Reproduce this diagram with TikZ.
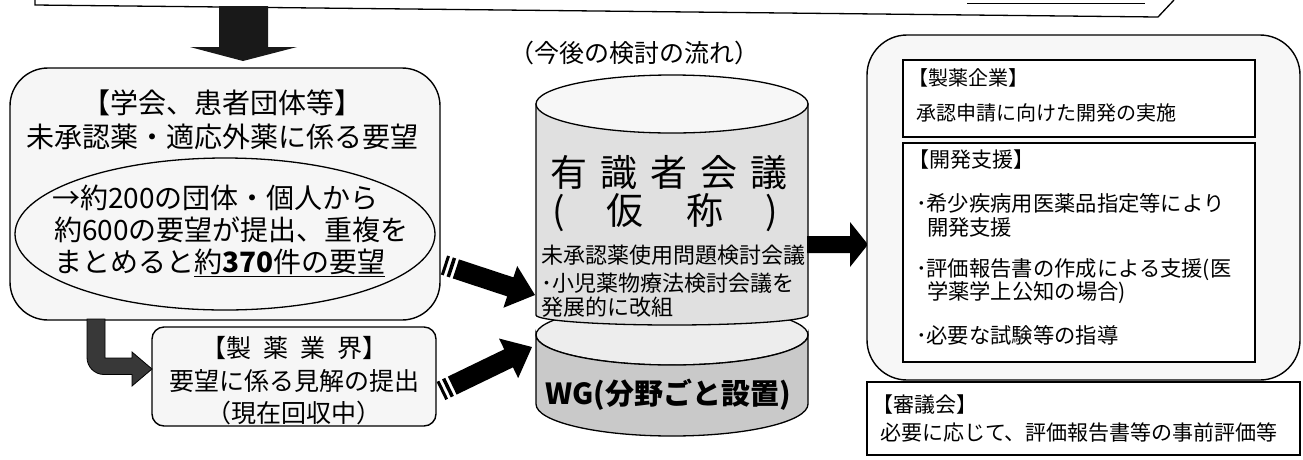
\documentclass[tikz,border=0pt]{standalone}
\usepackage{fontspec}
\setmainfont{Noto Sans CJK JP}
\usetikzlibrary{calc,shapes.geometric}
\newcommand\FSz[1]{\fontsize{#1pt}{#1pt}\selectfont}
\newcommand\StripeArrow[2]{%
 \path let \p1=($(#2)-(#1)$) in \pgfextra{%
   \pgfmathsetmacro\saAngTmp{atan2(\y1,\x1)}%
   \pgfmathsetmacro\saLenTmp{veclen(\x1,\y1)}%
   \xdef\saAng{\saAngTmp}\xdef\saLen{\saLenTmp}};
 \begin{scope}[shift={(#1)}, rotate=\saAng]
  \fill[black] (0,-10) rectangle (3,10);
  \fill[black] (6,-10) rectangle (9.5,10);
  \fill[black] (12.5,-10) -- ({\saLen-26},-10) -- ({\saLen-26},-22) -- (\saLen,0)
     -- ({\saLen-26},22) -- ({\saLen-26},10) -- (12.5,10) -- cycle;
 \end{scope}}
\begin{document}
\begin{tikzpicture}[x=1pt,y=-1pt,
  bx/.style={draw=black, line width=1.4pt, inner sep=0pt},
  lbl/.style={inner sep=0pt, outer sep=0pt},
]
\useasboundingbox (0,0) rectangle (1303,459);
\fill[white] (0,0) rectangle (1303,459);

% top box fragment
\draw[line width=1.3pt] (35,0) -- (35,5) -- (1158,17) -- (1174,0);
\draw[line width=1pt] (967,3) -- (1145,3);

% down arrow
\fill[black!90] (219,6) -- (219,47) -- (190,47) -- (243,61) -- (297,47) -- (268,47) -- (268,6) -- cycle;

% box 1
\node[bx, fill=gray!7, rounded corners=38pt, minimum width=430pt, minimum height=252pt] (req) at (225,194) {};
\node[draw, line width=1.3pt, ellipse, inner sep=0pt, minimum width=420pt, minimum height=152pt] (ell) at (225,234) {};
\node[lbl, font=\FSz{28}] (reqA) at (222,103) {【学会、患者団体等】};
\node[lbl, font=\FSz{28}] (reqB) at (222,137) {未承認薬・適応外薬に係る要望};
\node[lbl, font=\FSz{28}, anchor=west] (ellA) at (52,198) {→約200の団体・個人から};
\node[lbl, font=\FSz{28}, anchor=west] (ellB) at (54,230) {約600の要望が提出、重複を};
\node[lbl, font=\FSz{28}, anchor=west] (ellC) at (54,263) {まとめると\underline{約\textbf{370}件の要望}};

% box 2
\node[bx, fill=gray!7, rounded corners=12pt, minimum width=284pt, minimum height=99pt] (ind) at (294,376.5) {};
\node[lbl, font=\FSz{25}] (indA) at (294,348) {【製\kern12pt 薬\kern12pt 業\kern12pt 界】};
\node[lbl, font=\FSz{25}] (indB) at (294,381) {要望に係る見解の提出};
\node[lbl, font=\FSz{25}] (indC) at (294,413) {（現在回収中）};

% curved arrow
\coordinate (cStart) at (96,319);
\coordinate (cTip) at (152,369);
\filldraw[fill=black!78, draw=black, line width=0.8pt] (87,319) -- (87,357.5)
  .. controls (87,366.9) and (94.6,374.5) .. (104,374.5) -- (132,374.5) -- (132,386)
  -- (cTip) -- (132,352) -- (132,358) -- (105,358) -- (105,319) -- cycle;

% heading
\node[lbl, font=\FSz{25}] (flow) at (634,53) {（今後の検討の流れ）};

% cylinder
\filldraw[fill=gray!14, line width=1.3pt] (672,335) ellipse [x radius=136, y radius=30];
\filldraw[fill=gray!42, line width=1.3pt] (536,335) .. controls (536,351.6) and (596.9,365) .. (672,365)
  .. controls (747.1,365) and (808,351.6) .. (808,335) -- (808,404)
  .. controls (808,421.7) and (747.1,436) .. (672,436)
  .. controls (596.9,436) and (536,421.7) .. (536,404) -- cycle;
\filldraw[fill=gray!24, line width=1.3pt] (536,104) -- (536,315) .. controls (536,320.5) and (596.9,325) .. (672,325)
  .. controls (747.1,325) and (808,320.5) .. (808,315) -- (808,104) -- cycle;
\filldraw[fill=gray!6, line width=1.3pt] (672,104) ellipse [x radius=136, y radius=29];

\node[lbl, font=\FSz{37}] (cylA) at (669,173) {\makebox[237pt][s]{有\hfill 識\hfill 者\hfill 会\hfill 議}};
\node[lbl, font=\FSz{37}] (cylB) at (665,213) {\makebox[226pt][s]{(\hfill 仮\hfill 称\hfill )}};
\node[lbl, font=\FSz{22}, anchor=west] (cylC) at (541,255) {未承認薬使用問題検討会議};
\node[lbl, font=\FSz{22}, anchor=west] (cylD) at (541,283) {･小児薬物療法検討会議を};
\node[lbl, font=\FSz{22}, anchor=west] (cylE) at (541,307) {発展的に改組};
\node[lbl, font=\FSz{29}] (cylF) at (668,395) {\textbf{WG(分野ごと設置)}};

% striped arrows
\coordinate (aTail) at (444,265);
\coordinate (aTip) at (535,295);
\coordinate (bTail) at (441,391);
\coordinate (bTip) at (532,347);
\StripeArrow{aTail}{aTip}
\StripeArrow{bTail}{bTip}

% right arrow
\fill[black] (807,236) -- (850,236) -- (850,222) -- (868,244.5) -- (850,267) -- (850,253) -- (807,253) -- cycle;

% right boxes
\node[bx, fill=gray!6, rounded corners=40pt, minimum width=433pt, minimum height=345pt] (dev) at (1083.5,207.5) {};
\node[draw, line width=1.3pt, fill=white, inner sep=0pt, minimum width=352pt, minimum height=77pt] (firm) at (1079,98.5) {};
\node[draw, line width=1.3pt, fill=white, inner sep=0pt, minimum width=352pt, minimum height=219pt] (supp) at (1079,252.5) {};
\node[draw, line width=1.3pt, fill=white, inner sep=0pt, minimum width=433pt, minimum height=73pt] (council) at (1083.5,418.5) {};

\node[lbl, font=\FSz{20}, anchor=west] (firmA) at (908,78) {【製薬企業】};
\node[lbl, font=\FSz{20}, anchor=west] (firmB) at (916,113) {承認申請に向けた開発の実施};
\node[lbl, font=\FSz{21}, anchor=west] (suppA) at (908,160) {【開発支援】};
\node[lbl, font=\FSz{21.3}, anchor=west] (suppB) at (916,203) {･希少疾病用医薬品指定等により};
\node[lbl, font=\FSz{21.3}, anchor=west] (suppC) at (927,227) {開発支援};
\node[lbl, font=\FSz{21.3}, anchor=west] (suppD) at (916,270) {･評価報告書の作成による支援(医};
\node[lbl, font=\FSz{21.3}, anchor=west] (suppE) at (927,293) {学薬学上公知の場合)};
\node[lbl, font=\FSz{21.3}, anchor=west] (suppF) at (916,335) {･必要な試験等の指導};
\node[lbl, font=\FSz{21}, anchor=west] (councilA) at (872,405) {【審議会】};
\node[lbl, font=\FSz{21}, anchor=west] (councilB) at (880,433) {必要に応じて、評価報告書等の事前評価等};
\end{tikzpicture}
\end{document}
